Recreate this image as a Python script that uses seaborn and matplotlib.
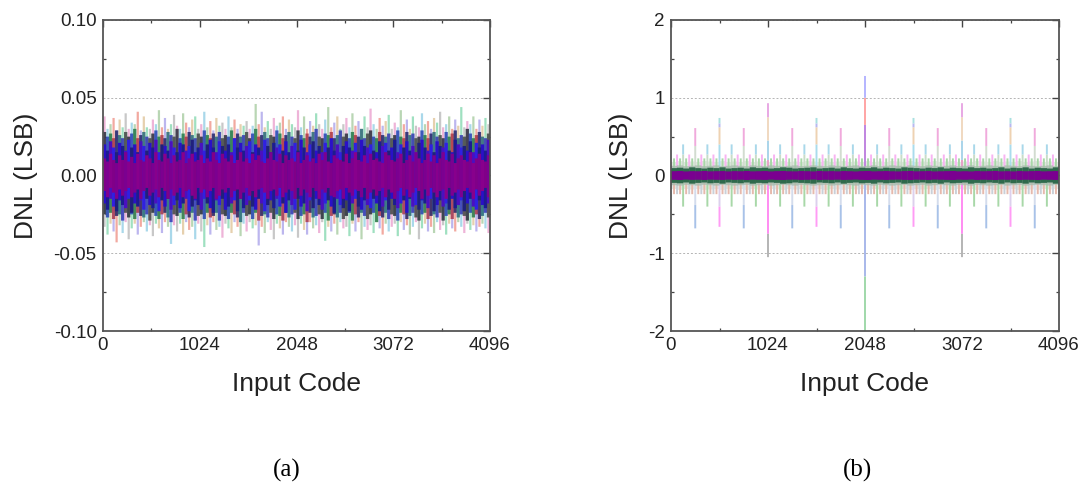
import pandas as pd
import matplotlib.pyplot as plt
import seaborn as sns
from matplotlib.ticker import MultipleLocator, FormatStrFormatter

# --- panel (a): one column of the noise band every 32 codes, heights in 0.001 LSB
codes_a = [16, 48, 80, 112, 144, 176, 208, 240, 272, 304, 336, 368, 400, 432, 464, 496,
           528, 560, 592, 624, 656, 688, 720, 752, 784, 816, 848, 880, 912, 944, 976, 1008,
           1040, 1072, 1104, 1136, 1168, 1200, 1232, 1264, 1296, 1328, 1360, 1392, 1424, 1456, 1488, 1520,
           1552, 1584, 1616, 1648, 1680, 1712, 1744, 1776, 1808, 1840, 1872, 1904, 1936, 1968, 2000, 2032,
           2064, 2096, 2128, 2160, 2192, 2224, 2256, 2288, 2320, 2352, 2384, 2416, 2448, 2480, 2512, 2544,
           2576, 2608, 2640, 2672, 2704, 2736, 2768, 2800, 2832, 2864, 2896, 2928, 2960, 2992, 3024, 3056,
           3088, 3120, 3152, 3184, 3216, 3248, 3280, 3312, 3344, 3376, 3408, 3440, 3472, 3504, 3536, 3568,
           3600, 3632, 3664, 3696, 3728, 3760, 3792, 3824, 3856, 3888, 3920, 3952, 3984, 4016, 4048, 4080]

peak_top = [38, 30, 33, 37, 29, 36, 31, 40, 30, 34, 33, 41, 29, 38, 31, 30, 36, 33, 42, 31, 37, 30, 33, 39, 32, 30, 40, 34, 31, 36, 38, 30,
            33, 41, 31, 35, 29, 37, 32, 34, 30, 38, 31, 36, 30, 33, 32, 35, 30, 32, 46, 33, 41, 31, 35, 30, 37, 32, 34, 38, 30, 36, 33, 31,
            42, 31, 38, 30, 35, 32, 40, 33, 30, 36, 44, 31, 34, 38, 30, 33, 37, 31, 40, 32, 35, 30, 38, 31, 43, 33, 30, 37, 32, 35, 39, 30,
            34, 31, 42, 33, 36, 30, 38, 32, 31, 40, 33, 35, 30, 37, 34, 41, 31, 33, 38, 30, 36, 32, 44, 31, 35, 33, 38, 30, 36, 32, 37, 33]
peak_bot = [-33, -38, -31, -36, -43, -32, -37, -30, -41, -34, -31, -38, -33, -30, -36, -32, -39, -31, -34, -37, -30, -33, -44, -32, -36, -31, -38, -30, -35, -33, -41, -31,
            -36, -46, -32, -38, -30, -35, -33, -40, -31, -34, -37, -30, -33, -39, -31, -36, -30, -34, -32, -45, -33, -37, -30, -35, -41, -31, -34, -38, -30, -33, -36, -32,
            -40, -31, -35, -38, -30, -34, -32, -37, -30, -42, -33, -36, -31, -38, -30, -34, -33, -39, -31, -36, -30, -41, -33, -35, -32, -37, -30, -34, -38, -31, -36, -33,
            -31, -39, -30, -35, -32, -38, -33, -30, -41, -34, -31, -36, -33, -37, -30, -35, -32, -38, -31, -34, -36, -30, -33, -37, -31, -35, -32, -36, -33, -31, -34, -37]
dark_top = [28, 25, 27, 24, 29, 26, 24, 28, 25, 27, 30, 24, 26, 28, 25, 24, 27, 29, 25, 26, 24, 28, 26, 25, 30, 24, 27, 25, 28, 26, 24, 27,
            25, 29, 26, 24, 27, 25, 28, 24, 26, 25, 29, 24, 27, 25, 26, 28, 24, 27, 30, 25, 26, 28, 24, 26, 25, 29, 27, 24, 26, 28, 25, 24,
            29, 26, 24, 27, 25, 28, 30, 25, 24, 27, 26, 28, 24, 26, 29, 25, 27, 24, 28, 26, 25, 30, 24, 27, 29, 25, 24, 28, 26, 25, 27, 24,
            26, 29, 25, 24, 28, 26, 27, 24, 25, 29, 26, 24, 27, 28, 25, 26, 24, 28, 25, 27, 29, 24, 26, 25, 30, 27, 24, 26, 28, 25, 24, 27]
dark_bot = [-25, -27, -24, -28, -26, -25, -29, -24, -27, -25, -28, -24, -26, -27, -25, -29, -24, -26, -28, -25, -24, -27, -30, -25, -26, -24, -28, -25, -27, -24, -29, -26,
            -25, -28, -24, -27, -26, -24, -29, -25, -26, -28, -24, -25, -27, -30, -24, -26, -25, -28, -24, -29, -26, -25, -27, -24, -28, -25, -26, -29, -24, -27, -25, -24,
            -28, -26, -25, -30, -24, -27, -26, -25, -28, -24, -29, -26, -25, -27, -24, -28, -26, -24, -29, -25, -27, -24, -26, -28, -25, -24, -30, -26, -27, -24, -28, -25,
            -26, -29, -24, -25, -28, -26, -24, -27, -29, -25, -24, -28, -26, -25, -27, -24, -29, -26, -25, -28, -24, -27, -25, -26, -29, -24, -27, -25, -28, -26, -24, -27]
blue_top = [20, 16, 22, 18, 15, 21, 19, 16, 23, 18, 20, 15, 22, 19, 16, 21, 18, 23, 15, 20, 19, 16, 22, 18, 15, 21, 20, 16, 19, 23, 15, 18,
            21, 16, 20, 23, 18, 15, 22, 19, 16, 20, 15, 24, 18, 21, 16, 19, 22, 15, 20, 18, 16, 23, 19, 15, 21, 18, 20, 16, 22, 15, 19, 21,
            16, 23, 18, 15, 20, 22, 16, 19, 15, 21, 18, 24, 16, 20, 15, 19, 22, 18, 16, 21, 15, 23, 19, 18, 20, 16, 15, 22, 19, 21, 16, 18,
            23, 15, 20, 18, 22, 16, 19, 15, 21, 23, 18, 16, 20, 15, 22, 19, 18, 21, 16, 15, 23, 20, 18, 19, 16, 22, 15, 21, 18, 20, 16, 23]
blue_bot = [-18, -22, -15, -20, -23, -16, -19, -21, -15, -24, -18, -20, -16, -22, -15, -19, -21, -18, -23, -16, -20, -15, -22, -19, -16, -21, -18, -15, -23, -20, -16, -19,
            -22, -15, -18, -21, -24, -16, -19, -15, -22, -20, -18, -16, -23, -15, -21, -19, -16, -20, -22, -15, -18, -23, -19, -16, -21, -15, -20, -18, -24, -16, -19, -22,
            -15, -20, -18, -23, -16, -21, -15, -19, -22, -18, -16, -20, -24, -15, -19, -21, -16, -23, -18, -15, -20, -22, -16, -19, -21, -15, -18, -23, -20, -16, -22, -15,
            -19, -21, -18, -16, -24, -15, -20, -19, -22, -16, -18, -21, -15, -23, -19, -16, -20, -18, -22, -15, -21, -19, -16, -23, -18, -15, -20, -22, -16, -19, -21, -18]
core_top = [11, 9, 14, 10, 8, 13, 10, 15, 9, 12, 8, 14, 10, 9, 13, 11, 8, 15, 10, 9, 14, 11, 8, 13, 9, 10, 15, 8, 11, 14, 9, 10,
            13, 8, 11, 9, 15, 10, 8, 14, 11, 9, 13, 8, 10, 15, 9, 11, 8, 14, 10, 13, 9, 8, 11, 15, 10, 9, 14, 8, 13, 10, 11, 9,
            15, 8, 10, 13, 9, 11, 8, 14, 10, 15, 9, 8, 13, 11, 10, 9, 14, 8, 11, 15, 10, 9, 13, 8, 14, 10, 11, 9, 8, 15, 13, 10,
            9, 11, 14, 8, 10, 13, 9, 15, 11, 8, 10, 14, 9, 13, 8, 11, 15, 10, 9, 14, 8, 11, 13, 10, 9, 15, 8, 11, 14, 10, 9, 13]
core_bot = [-10, -14, -8, -11, -15, -9, -13, -10, -8, -14, -11, -9, -15, -10, -8, -13, -11, -9, -14, -8, -10, -15, -9, -13, -11, -8, -14, -10, -9, -13, -15, -8,
            -11, -9, -14, -10, -8, -15, -13, -9, -11, -8, -14, -10, -9, -15, -11, -8, -13, -10, -14, -9, -8, -11, -15, -10, -9, -13, -8, -14, -11, -9, -10, -15,
            -8, -13, -9, -11, -14, -8, -10, -15, -9, -11, -8, -13, -14, -10, -9, -15, -8, -11, -13, -9, -10, -14, -8, -15, -11, -9, -13, -10, -8, -14, -9, -11,
            -15, -10, -8, -13, -9, -14, -11, -8, -10, -15, -9, -13, -8, -11, -14, -10, -9, -15, -8, -13, -11, -9, -14, -10, -8, -11, -15, -9, -13, -10, -8, -14]

peak_colors = ['#eeb4d8', '#a9d8ea', '#b9d6b4', '#f2a9a0', '#bcb6ee', '#e6d0ae', '#9fe0c0', '#c8c8c8']
dark_colors = ['#1c2430', '#2038b0', '#1a7444', '#a83040', '#1a1a60', '#1c6478', '#2c2cb0', '#38403c']
blue_colors = ['#2a10c8', '#1c1c90', '#4a10c0', '#3020e0', '#20207c']

# --- panel (b): spikes repeat on the binary code boundaries
codes_32 = [32, 96, 160, 224, 288, 352, 416, 480, 544, 608, 672, 736, 800, 864, 928, 992,
            1056, 1120, 1184, 1248, 1312, 1376, 1440, 1504, 1568, 1632, 1696, 1760, 1824, 1888, 1952, 2016,
            2080, 2144, 2208, 2272, 2336, 2400, 2464, 2528, 2592, 2656, 2720, 2784, 2848, 2912, 2976, 3040,
            3104, 3168, 3232, 3296, 3360, 3424, 3488, 3552, 3616, 3680, 3744, 3808, 3872, 3936, 4000, 4064]
codes_64 = [64, 192, 320, 448, 576, 704, 832, 960, 1088, 1216, 1344, 1472, 1600, 1728, 1856, 1984,
            2112, 2240, 2368, 2496, 2624, 2752, 2880, 3008, 3136, 3264, 3392, 3520, 3648, 3776, 3904, 4032]
codes_128 = [128, 384, 640, 896, 1152, 1408, 1664, 1920, 2176, 2432, 2688, 2944, 3200, 3456, 3712, 3968]
codes_256 = [256, 768, 1280, 1792, 2304, 2816, 3328, 3840]
codes_512 = [512, 1536, 2560, 3584]
codes_1024 = [1024, 3072]
codes_2048 = [2048]

# (from, to, colour) stacked along each spike
segs_32 = [(0.09, 0.22, '#a8d8a8'), (-0.24, -0.09, '#e6b9ac')]
segs_64 = [(0.09, 0.27, '#f8b4f2'), (-0.24, -0.09, '#c9d0d8')]
segs_128 = [(0.09, 0.27, '#c8dcc8'), (0.27, 0.40, '#a9d8ea'), (-0.40, -0.09, '#a8d8a8')]
segs_256 = [(0.09, 0.38, '#d2dcd0'), (0.38, 0.61, '#f0aadc'), (-0.38, -0.09, '#d4dcec'), (-0.68, -0.38, '#a8c2e8')]
segs_512 = [(0.09, 0.40, '#a9dcec'), (0.40, 0.62, '#eed2b2'), (0.62, 0.67, '#b8b8f0'), (0.67, 0.74, '#a9e0e0'),
            (-0.40, -0.09, '#dcd0ec'), (-0.66, -0.40, '#ff9cf5')]
segs_1024 = [(0.09, 0.20, '#e8a0c8'), (0.20, 0.45, '#a9d4ea'), (0.45, 0.75, '#f0d8c0'), (0.75, 0.93, '#e8a8e4'),
             (-0.75, -0.09, '#ff8cf2'), (-1.05, -0.75, '#b4b4b4')]
segs_2048 = [(0.09, 0.65, '#c084e0'), (0.65, 1.00, '#ffa4a4'), (1.00, 1.28, '#b4b4ff'),
             (-1.30, -0.09, '#a8b8ea'), (-2.00, -1.30, '#a0d8aa')]

# filled part of the band at 0, one column every 64 codes, heights in 0.001 LSB
band_codes = [32, 96, 160, 224, 288, 352, 416, 480, 544, 608, 672, 736, 800, 864, 928, 992,
              1056, 1120, 1184, 1248, 1312, 1376, 1440, 1504, 1568, 1632, 1696, 1760, 1824, 1888, 1952, 2016,
              2080, 2144, 2208, 2272, 2336, 2400, 2464, 2528, 2592, 2656, 2720, 2784, 2848, 2912, 2976, 3040,
              3104, 3168, 3232, 3296, 3360, 3424, 3488, 3552, 3616, 3680, 3744, 3808, 3872, 3936, 4000, 4064]
pale_level = [175, 185, 175, 180, 175, 185, 180, 175, 185, 175, 180, 175, 185, 175, 180, 185,
              175, 180, 185, 175, 180, 175, 185, 180, 175, 185, 175, 180, 185, 175, 180, 175,
              185, 175, 180, 175, 185, 180, 175, 185, 175, 180, 175, 185, 175, 180, 185, 175,
              180, 175, 185, 180, 175, 185, 175, 180, 175, 185, 175, 180, 185, 175, 180, 175]
mid_level = [125, 130, 120, 125, 130, 120, 125, 130, 120, 125, 130, 125, 120, 130, 125, 120,
             130, 125, 120, 125, 130, 120, 125, 130, 125, 120, 130, 125, 120, 125, 130, 120,
             125, 130, 120, 125, 130, 125, 120, 130, 125, 120, 130, 125, 120, 125, 130, 120,
             125, 130, 120, 125, 130, 125, 120, 130, 125, 120, 130, 125, 120, 125, 130, 120]
green_level = [95, 100, 90, 105, 95, 90, 100, 95, 105, 90, 95, 100, 90, 105, 95, 100,
               90, 95, 105, 100, 90, 95, 100, 105, 90, 95, 100, 90, 105, 95, 90, 100,
               95, 105, 90, 100, 95, 90, 105, 100, 95, 90, 100, 95, 105, 90, 100, 95,
               90, 105, 95, 100, 90, 95, 105, 90, 100, 95, 105, 90, 100, 95, 90, 105]
core_level = [55, 58, 52, 56, 54, 58, 53, 55, 57, 52, 56, 54, 58, 53, 55, 57,
              52, 56, 58, 54, 53, 57, 55, 52, 58, 54, 56, 53, 57, 55, 52, 56,
              58, 53, 55, 57, 54, 52, 56, 58, 53, 55, 57, 52, 54, 56, 58, 53,
              55, 52, 57, 54, 56, 58, 53, 55, 52, 57, 54, 56, 58, 53, 55, 57]

x_ticks = [0, 1024, 2048, 3072, 4096]
y_ticks_a = [-0.10, -0.05, 0.00, 0.05, 0.10]
y_ticks_b = [-2, -1, 0, 1, 2]

sns.set_theme(style='white')
plt.rcParams['font.family'] = ['Liberation Sans', 'DejaVu Sans']


def draw_columns(ax, codes, lows, highs, colors, width, alpha=1.0, scale=1.0):
    # every column is its own unit of two rows, colour goes through hue
    rows = []
    for i, code in enumerate(codes):
        c = colors[i % len(colors)]
        rows.append({'code': code, 'dnl': lows[i] * scale, 'col': i, 'colour': c})
        rows.append({'code': code, 'dnl': highs[i] * scale, 'col': i, 'colour': c})
    df = pd.DataFrame(rows)
    sns.lineplot(data=df, x='code', y='dnl', hue='colour', units='col', estimator=None,
                 palette={c: c for c in colors}, sort=False, legend=False, linewidth=width,
                 alpha=alpha, solid_capstyle='butt', snap=False, ax=ax)


def draw_spikes(ax, codes, segments, width=1.4):
    for lo, hi, colour in segments:
        draw_columns(ax, codes, [lo] * len(codes), [hi] * len(codes), [colour], width)


def style_axes(ax, yticks, minor_y, fmt):
    ax.set_xlim(0, 4096)
    ax.set_ylim(yticks[0], yticks[-1])
    ax.set_xticks(x_ticks)
    ax.set_yticks(yticks)
    ax.xaxis.set_minor_locator(MultipleLocator(512))
    ax.yaxis.set_minor_locator(MultipleLocator(minor_y))
    ax.yaxis.set_major_formatter(FormatStrFormatter(fmt))
    ax.tick_params(which='major', direction='in', length=5, width=1.0, color='#444444', top=True, right=True,
                   labelsize=13.5, labelcolor='#222222', pad=4.5)
    ax.tick_params(which='minor', direction='in', length=2.5, width=0.9, color='#444444', top=True, right=True,
                   bottom=True, left=True)
    ax.grid(True, axis='y', which='major', color='#b4b4b4', linewidth=0.7, linestyle=(0, (2, 2)))
    ax.set_axisbelow(True)
    for spine in ax.spines.values():
        spine.set_color('#555555')
        spine.set_linewidth(1.3)
    ax.set_xlabel('Input Code', fontsize=19, color='#222222', labelpad=13)
    ax.set_ylabel('DNL (LSB)', fontsize=19, color='#222222', labelpad=11)


fig = plt.figure(figsize=(10.83, 4.86), dpi=100)
ax_a = fig.add_axes([103 / 1083, 1 - 331 / 486, 387 / 1083, 311 / 486])
ax_b = fig.add_axes([671 / 1083, 1 - 331 / 486, 388 / 1083, 311 / 486])

# (a) noise band, palest first and purple core on top
draw_columns(ax_a, codes_a, [0] * len(codes_a), peak_top, peak_colors, 1.6, scale=0.001)
draw_columns(ax_a, codes_a, peak_bot, [0] * len(codes_a), peak_colors[::-1], 1.6, scale=0.001)
draw_columns(ax_a, codes_a, dark_bot, dark_top, dark_colors, 2.4, alpha=0.8, scale=0.001)
draw_columns(ax_a, codes_a, blue_bot, blue_top, blue_colors, 2.4, scale=0.001)
draw_columns(ax_a, codes_a, core_bot, core_top, ['#800088', '#7c0090', '#88008c'], 2.4, scale=0.001)
style_axes(ax_a, y_ticks_a, 0.025, '%.2f')

# (b) pale band, then spikes, then the dark band at zero
draw_columns(ax_b, band_codes, [-v for v in pale_level], pale_level, ['#e2e8e2'], 4.5, scale=0.001)
for codes, segs in [(codes_32, segs_32), (codes_64, segs_64), (codes_128, segs_128), (codes_256, segs_256),
                    (codes_512, segs_512), (codes_1024, segs_1024), (codes_2048, segs_2048)]:
    draw_spikes(ax_b, codes, segs)
draw_columns(ax_b, band_codes, [-v for v in mid_level], mid_level, ['#a8bcae'], 4.5, alpha=0.8, scale=0.001)
draw_columns(ax_b, band_codes, [-v for v in green_level], green_level, ['#2f6a4c'], 4.5, scale=0.001)
draw_columns(ax_b, band_codes, [-v for v in core_level], core_level, ['#7a0090'], 4.5, scale=0.001)
style_axes(ax_b, y_ticks_b, 0.5, '%d')

fig.text(287 / 1083, 1 - 470 / 486, '(a)', fontsize=18, family='Liberation Serif', ha='center', va='center', color='black')
fig.text(857 / 1083, 1 - 470 / 486, '(b)', fontsize=18, family='Liberation Serif', ha='center', va='center', color='black')

plt.savefig('out.png', dpi=100)
